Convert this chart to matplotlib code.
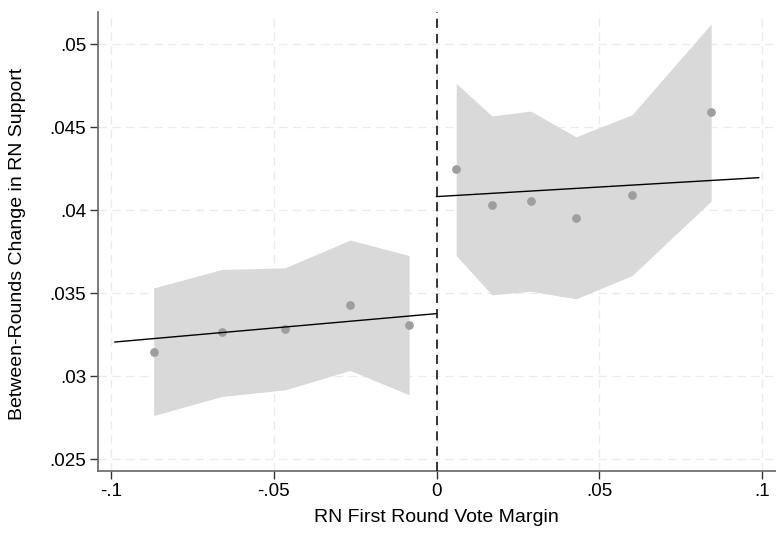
import matplotlib
matplotlib.use("Agg")
import matplotlib.pyplot as plt
import numpy as np

plt.rcParams['font.family'] = ['Liberation Sans', 'DejaVu Sans']

# Binned means (left of cutoff)
x_left = [-0.0868, -0.0659, -0.0465, -0.0265, -0.0084]
y_left = [0.03147, 0.03265, 0.03285, 0.03428, 0.03307]
ci_left_hi = [0.03533, 0.03644, 0.03654, 0.03821, 0.03728]
ci_left_lo = [0.02764, 0.02879, 0.02919, 0.03036, 0.02889]

# Binned means (right of cutoff)
x_right = [0.00605, 0.0170, 0.0289, 0.0428, 0.0600, 0.0843]
y_right = [0.04248, 0.04030, 0.04056, 0.03952, 0.04092, 0.04592]
ci_right_hi = [0.04765, 0.04569, 0.04598, 0.04443, 0.04576, 0.05123]
ci_right_lo = [0.03728, 0.03491, 0.03513, 0.03467, 0.03607, 0.04056]

# Linear fits
fit_left_x = [-0.0987, 0.0]
fit_left_y = [0.03207, 0.03378]
fit_right_x = [0.0, 0.0989]
fit_right_y = [0.04083, 0.04197]

xticks = [-0.1, -0.05, 0, 0.05, 0.1]
xticklabels = ['-.1', '-.05', '0', '.05', '.1']
yticks = [0.025, 0.03, 0.035, 0.04, 0.045, 0.05]
yticklabels = ['.025', '.03', '.035', '.04', '.045', '.05']

fig = plt.figure(figsize=(7.76, 5.33), dpi=100)
ax = fig.add_axes([98/776, 62/533, 1 - 98/776, (471-12)/533])

band_color = '#d9d9d9'
ax.fill_between(x_left, ci_left_lo, ci_left_hi, color=band_color, linewidth=0, zorder=1)
ax.fill_between(x_right, ci_right_lo, ci_right_hi, color=band_color, linewidth=0, zorder=1)

ax.plot(x_left, y_left, 'o', color='#9e9e9e', markersize=6.3, markeredgewidth=0, zorder=3)
ax.plot(x_right, y_right, 'o', color='#9e9e9e', markersize=6.3, markeredgewidth=0, zorder=3)

ax.plot(fit_left_x, fit_left_y, color='black', linewidth=1.0, zorder=4)
ax.plot(fit_right_x, fit_right_y, color='black', linewidth=1.0, zorder=4)

ax.axvline(0, color='black', linewidth=1.1, linestyle=(0, (6, 4)), zorder=5)

ax.set_xlim(-0.1039, 0.1042)
ax.set_ylim(0.0243, 0.05195)

ax.set_xticks(xticks)
ax.set_xticklabels(xticklabels)
ax.set_yticks(yticks)
ax.set_yticklabels(yticklabels)

ax.grid(True, color='#ebebeb', linestyle=(0, (6, 4)), linewidth=1.0, zorder=0)
ax.set_axisbelow(True)

for s in ['top', 'right']:
    ax.spines[s].set_visible(False)
for s in ['left', 'bottom']:
    ax.spines[s].set_color('#666666')
    ax.spines[s].set_linewidth(1.2)

ax.tick_params(axis='both', direction='out', length=5.5, width=1.0, color='#333333',
               labelsize=13.5, pad=3, labelcolor='black')

ax.set_xlabel('RN First Round Vote Margin', fontsize=14)
ax.set_ylabel('Between-Rounds Change in RN Support', fontsize=14)
ax.xaxis.label.set_va('center')
ax.yaxis.label.set_va('center')
ax.xaxis.set_label_coords((436 - 98) / 678, (471 - 518) / 459)
ax.yaxis.set_label_coords((18 - 98) / 678, (471 - 244) / 459)

fig.savefig('out.png', dpi=100)
